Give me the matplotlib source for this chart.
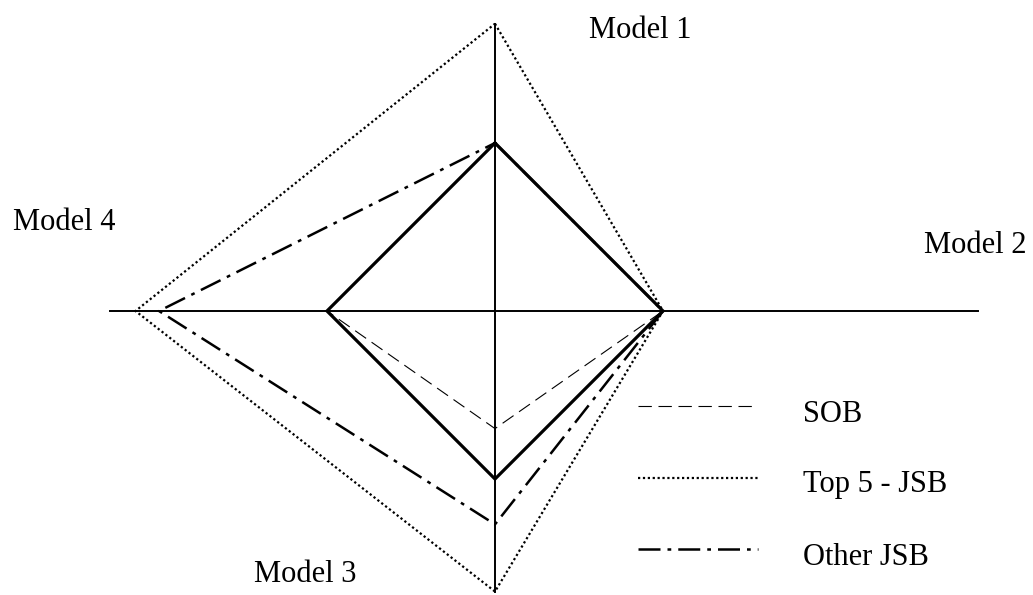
import numpy as np
import matplotlib.pyplot as plt

plt.rcParams['font.family'] = ['Liberation Serif', 'DejaVu Serif']

# axis order: Model 1 (up), Model 2 (right), Model 3 (down), Model 4 (left)
models = ['Model 1', 'Model 2', 'Model 3', 'Model 4']
base = [1.0, 1.0, 1.0, 1.0]
sob = [1.0, 1.0, 0.70, 1.0]
top5 = [1.71, 1.0, 1.67, 2.14]
other = [1.0, 1.0, 1.27, 2.0]
series_names = ['SOB', 'Top 5 - JSB', 'Other JSB']

dirs = np.array([[0, 1], [1, 0], [0, -1], [-1, 0]])


def poly(vals):
    pts = dirs * np.array(vals)[:, None]
    pts = np.vstack([pts, pts[:1]])
    return pts[:, 0], pts[:, 1]


fig = plt.figure(figsize=(10.33, 5.95), dpi=100)
ax = fig.add_axes([0, 0, 1, 1])
ax.set_xlim(-495 / 168, (1033 - 495) / 168)
ax.set_ylim(-(595 - 311) / 168, 311 / 168)
ax.axis('off')

sob_style = dict(color='black', lw=0.8, dashes=(12, 6))
top5_style = dict(color='black', lw=1.6, dashes=(1, 1.2))
other_style = dict(color='black', lw=1.8, dashes=(8.8, 2.8, 1.5, 2.8))

# axes
ax.plot([-2.29, 2.875], [0, 0], color='black', lw=1.4)
ax.plot([0, 0], [-top5[2], top5[0]], color='black', lw=1.4)

x, y = poly(base)
ax.plot(x, y, color='black', lw=2.3, solid_joinstyle='miter')
x, y = poly(sob)
ax.plot(x, y, **sob_style)
x, y = poly(top5)
ax.plot(x, y, **top5_style)
x, y = poly(other)
ax.plot(x, y, **other_style)

# model labels
fs = 22
ax.text(0.863, 1.625, models[0], fontsize=fs, ha='center', va='baseline')
ax.text(2.860, 0.345, models[1], fontsize=fs, ha='center', va='baseline')
ax.text(-1.131, -1.613, models[2], fontsize=fs, ha='center', va='baseline')
ax.text(-2.563, 0.482, models[3], fontsize=fs, ha='center', va='baseline')

# legend, drawn by hand
line_y = [-0.565, -0.994, -1.417]
text_y = [-0.661, -1.077, -1.512]
for name, style, ly, ty in zip(series_names, [sob_style, top5_style, other_style],
                               line_y, text_y):
    ax.plot([0.851, 1.565], [ly, ly], **style)
    ax.text(1.833, ty, name, fontsize=fs, ha='left', va='baseline')

fig.savefig('out.png', dpi=100)
